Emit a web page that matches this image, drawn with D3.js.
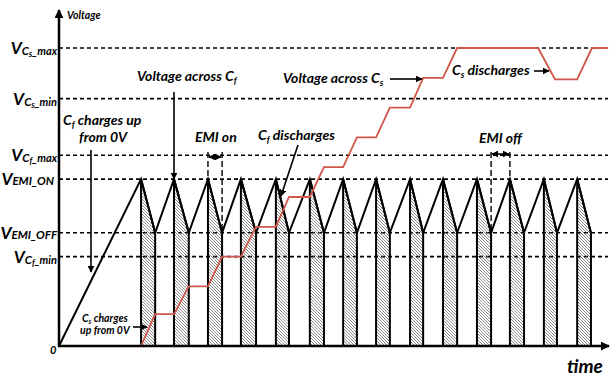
<!DOCTYPE html>
<html>
<head>
<meta charset="utf-8">
<script src="https://cdn.jsdelivr.net/npm/d3@7"></script>
<style>
  body { margin: 0; background: #fff; }
  text { font-family: Lato, "Open Sans", sans-serif; font-weight: bold; font-style: italic; fill: #000; }
</style>
</head>
<body>
<script>
// threshold levels (arbitrary voltage units, Cs_max = 10)
var levelNames = ["Cs_max", "Cs_min", "Cf_max", "EMI_ON", "EMI_OFF", "Cf_min"];
var levelValues = [10, 8.3, 6.4, 5.6, 3.8, 3.0];

// Cf waveform: peak (EMI on) and valley (EMI off) instants
var cfPeaks = [2.44, 3.42, 4.43, 5.41, 6.45, 7.46, 8.45, 9.43, 10.44, 11.42, 12.43, 13.41, 14.42, 15.41];
var cfValleys = [2.86, 3.86, 4.85, 5.86, 6.84, 7.88, 8.86, 9.84, 10.83, 11.84, 12.85, 13.83, 14.81, 15.82];

// Cs waveform
var csTime = [2.44, 2.86, 3.42, 3.86, 4.43, 4.85, 5.41, 5.86, 6.45, 6.84, 7.46, 7.88, 8.45, 8.86, 9.43, 9.84,
              10.44, 10.83, 11.42, 11.84, 14.25, 14.75, 15.41, 15.85, 16.33];
var csVolt = [0, 1.07, 1.07, 2.0, 2.0, 3.0, 3.0, 4.0, 4.0, 5.0, 5.0, 6.0, 6.0, 7.0, 7.0, 8.0,
              8.0, 9.0, 9.0, 10, 10, 8.95, 8.95, 10, 10];

var width = 610, height = 382;
var x = d3.scaleLinear().domain([0, 16]).range([59, 597]);
var y = d3.scaleLinear().domain([0, 10]).range([346, 48]);
var lv = {};
levelNames.forEach(function(n, i) { lv[n] = levelValues[i]; });

var svg = d3.select("body").append("svg")
    .attr("width", width)
    .attr("height", height);

var defs = svg.append("defs");
var pat = defs.append("pattern")
    .attr("id", "hatch")
    .attr("patternUnits", "userSpaceOnUse")
    .attr("width", 3).attr("height", 3);
pat.append("path")
    .attr("d", "M-1,-1 L4,4 M-1,2 L1,4 M2,-1 L4,1")
    .attr("stroke", "#666").attr("stroke-width", 0.75);

function marker(id, size) {
  defs.append("marker")
      .attr("id", id)
      .attr("viewBox", "0 0 10 10")
      .attr("refX", 9).attr("refY", 5)
      .attr("markerWidth", size).attr("markerHeight", size)
      .attr("markerUnits", "userSpaceOnUse")
      .attr("orient", "auto-start-reverse")
    .append("path")
      .attr("d", "M0,0 L10,5 L0,10 z")
      .attr("fill", "#000");
}
marker("arr", 7);
marker("arrBig", 9);

// dashed level lines
svg.append("g").selectAll("line")
    .data(levelValues)
  .enter().append("line")
    .attr("x1", x(0)).attr("x2", 608)
    .attr("y1", function(d) { return y(d); })
    .attr("y2", function(d) { return y(d); })
    .attr("stroke", "#000").attr("stroke-width", 1.6)
    .attr("stroke-dasharray", "4,3");

// hatched discharge intervals of Cf
var pulses = cfPeaks.map(function(p, i) { return [p, cfValleys[i]]; });
svg.append("g").selectAll("path")
    .data(pulses)
  .enter().append("path")
    .attr("d", function(d) {
      return "M" + x(d[0]) + "," + y(0) + "L" + x(d[0]) + "," + y(lv.EMI_ON) +
             "L" + x(d[1]) + "," + y(lv.EMI_OFF) + "L" + x(d[1]) + "," + y(0) + "Z";
    })
    .attr("fill", "url(#hatch)")
    .attr("stroke", "#000").attr("stroke-width", 2)
    .attr("stroke-linejoin", "miter");

// Cf voltage waveform
var cfPts = [[0, 0]];
cfPeaks.forEach(function(p, i) {
  cfPts.push([p, lv.EMI_ON]);
  cfPts.push([cfValleys[i], lv.EMI_OFF]);
});
var line = d3.line().x(function(d) { return x(d[0]); }).y(function(d) { return y(d[1]); });
svg.append("path")
    .datum(cfPts)
    .attr("d", line)
    .attr("fill", "none").attr("stroke", "#000").attr("stroke-width", 2)
    .attr("stroke-linejoin", "miter");

// Cs voltage waveform
svg.append("path")
    .datum(csTime.map(function(t, i) { return [t, csVolt[i]]; }))
    .attr("d", line)
    .attr("fill", "none").attr("stroke", "#d0574a").attr("stroke-width", 1.8);

// axes
svg.append("line")
    .attr("x1", x(0)).attr("y1", y(0) + 1).attr("x2", x(0)).attr("y2", 10)
    .attr("stroke", "#000").attr("stroke-width", 2.5).attr("marker-end", "url(#arrBig)");
svg.append("line")
    .attr("x1", x(0) - 1).attr("y1", y(0)).attr("x2", 609).attr("y2", y(0))
    .attr("stroke", "#000").attr("stroke-width", 2.5).attr("marker-end", "url(#arrBig)");

// level labels
function levelLabel(yv, xr, parts) {
  var t = svg.append("text").attr("x", xr).attr("y", y(yv) + 6).attr("text-anchor", "end");
  parts.forEach(function(p) {
    t.append("tspan").attr("font-size", p[1]).attr("dy", p[2] || 0).text(p[0]);
  });
}
levelLabel(lv.Cs_max, 57, [["V", 17], ["C", 11.5, 1], ["s", 8.5, 2], ["_max", 11, -2]]);
levelLabel(lv.Cs_min, 57, [["V", 17], ["C", 11.5, 1], ["s", 8.5, 2], ["_min", 11, -2]]);
levelLabel(lv.Cf_max, 57, [["V", 17], ["C", 11.5, 1], ["f", 8.5, 2], ["_max", 11, -2]]);
levelLabel(lv.EMI_ON, 54, [["V", 17], ["EMI_ON", 11.5]]);
levelLabel(lv.EMI_OFF, 57, [["V", 17], ["EMI_OFF", 11.5]]);
levelLabel(lv.Cf_min, 57, [["V", 17], ["C", 11.5, 1], ["f", 8.5, 2], ["_min", 11, -2]]);

svg.append("text").attr("x", 50).attr("y", 354).attr("font-size", 11).text("0");
svg.append("text").attr("x", 67).attr("y", 19).attr("font-size", 10.5).text("Voltage");
svg.append("text").attr("x", 567).attr("y", 373).attr("font-size", 19).text("time");

function note(xp, yp, size, parts) {
  var t = svg.append("text").attr("x", xp).attr("y", yp).attr("font-size", size);
  parts.forEach(function(p) {
    var s = t.append("tspan").text(p[0]);
    if (p[1]) s.attr("font-size", p[1]).attr("dy", p[2]);
  });
}
note(63, 125, 14, [["C"], ["f", 9, 3], [" charges up", 14, -3]]);
note(79, 142, 14, [["from 0V"]]);
note(137, 81, 14, [["Voltage across C"], ["f", 9, 3]]);
note(283, 83, 14, [["Voltage across C"], ["s", 9, 3]]);
note(452, 75, 14, [["C"], ["s", 9, 3], [" discharges", 14, -3]]);
note(195, 142, 14, [["EMI on"]]);
note(258, 140, 14, [["C"], ["f", 9, 3], [" discharges", 14, -3]]);
note(479, 143, 14, [["EMI off"]]);
note(82, 322, 10.5, [["C"], ["s", 7, 2], [" charges", 10.5, -2]]);
note(80, 334, 10.5, [["up from 0V"]]);

// annotation arrows
function arrow(x1, y1, x2, y2, both) {
  var l = svg.append("line")
      .attr("x1", x1).attr("y1", y1).attr("x2", x2).attr("y2", y2)
      .attr("stroke", "#000").attr("stroke-width", 1.6)
      .attr("marker-end", "url(#arr)");
  if (both) l.attr("marker-start", "url(#arr)");
}
arrow(91, 150, 91, 272);
arrow(174, 92, 174, y(lv.EMI_ON));
arrow(390, 79, 422, 79);
arrow(534, 71, 549, 71);
arrow(298, 145, 281, 196);
arrow(133, 327, 147, 327);
arrow(209, 157, 221, 157, true);
arrow(492, 154, 509, 154, true);

// EMI on / off markers
var emiMarks = [[cfPeaks[2], lv.EMI_ON], [cfValleys[2], lv.EMI_OFF], [cfValleys[10], lv.EMI_OFF], [cfPeaks[11], lv.EMI_ON]];
svg.append("g").selectAll("line")
    .data(emiMarks)
  .enter().append("line")
    .attr("x1", function(d) { return x(d[0]); })
    .attr("x2", function(d) { return x(d[0]); })
    .attr("y1", 152)
    .attr("y2", function(d) { return y(d[1]); })
    .attr("stroke", "#000").attr("stroke-width", 1.4)
    .attr("stroke-dasharray", "6,3");
</script>
</body>
</html>
